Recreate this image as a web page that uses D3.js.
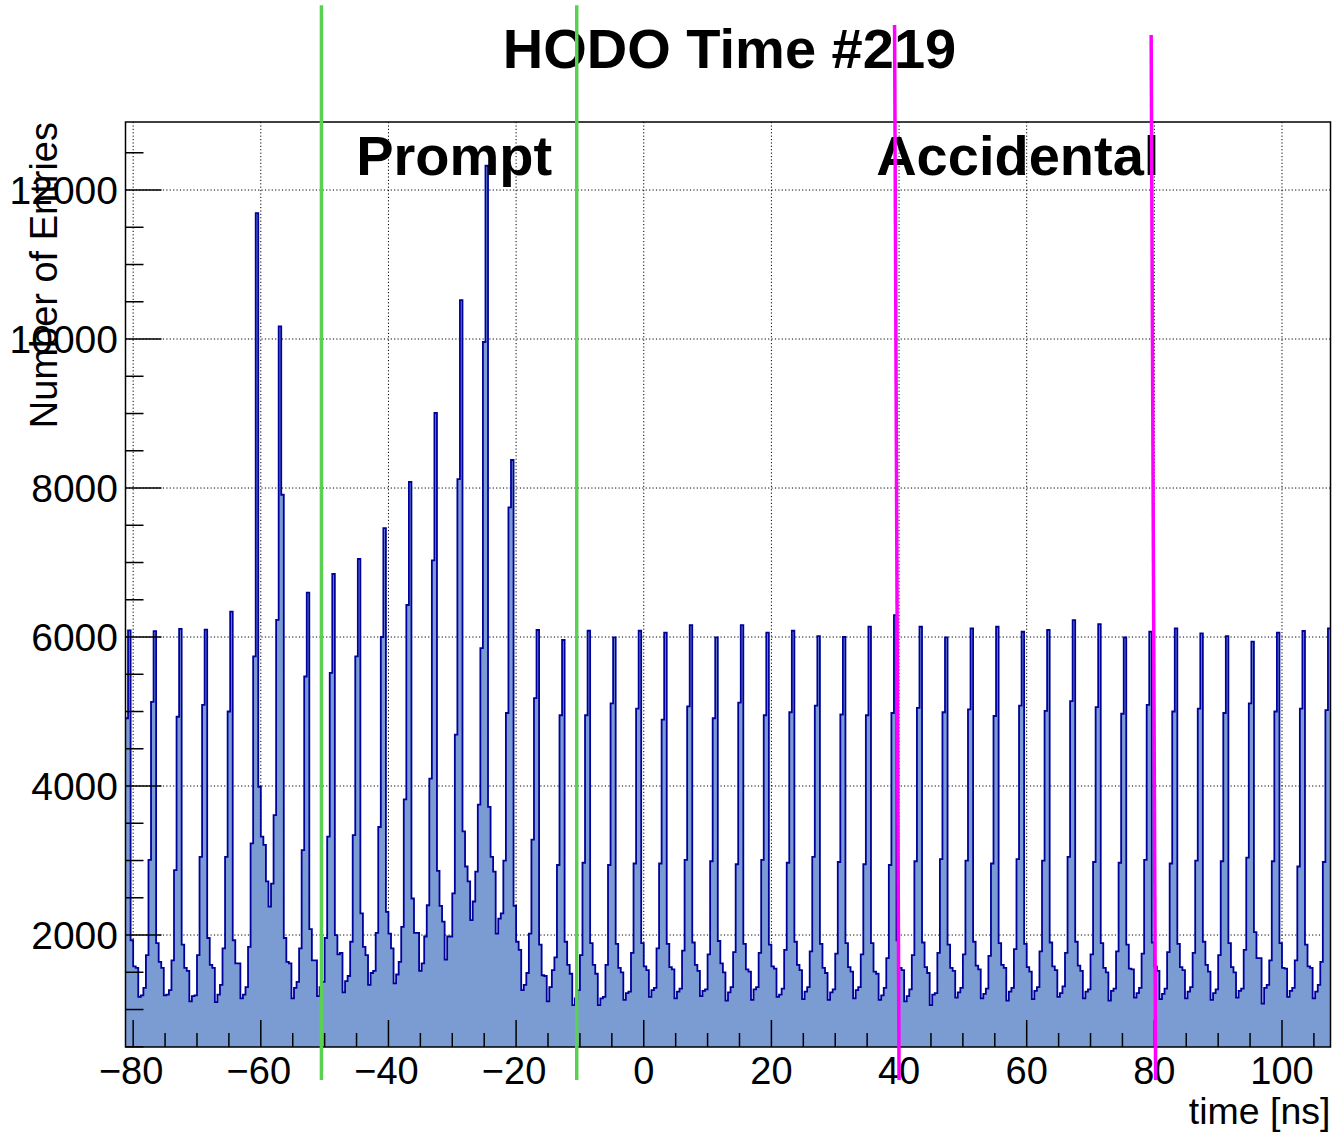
<!DOCTYPE html>
<html>
<head>
<meta charset="utf-8">
<script src="https://cdn.jsdelivr.net/npm/d3@7"></script>
<style>
  html, body { margin: 0; padding: 0; background: #ffffff; }
  svg { display: block; }
  text { font-family: "Liberation Sans", Arial, Helvetica, sans-serif; fill: #000; }
</style>
</head>
<body>
<svg id="chart" width="1337" height="1134"></svg>
<script>
// ---- Histogram binning (ns) ----
const binLow = -81.2;
const binWidth = 0.4;

// Entries per 0.4 ns bin, from -81.2 ns upward.
// First value is the lone bin before the first bunch; each following row
// holds one 4 ns RF period starting at its bunch peak.
const counts = [
  4910,
  6090, 1930, 1580, 1560, 1170, 1190, 1290, 1730, 3010, 5130,
  6080, 1890, 1640, 1560, 1190, 1200, 1260, 1660, 2870, 4930,
  6110, 1870, 1560, 1520, 1110, 1180, 1190, 1730, 3050, 5090,
  6100, 1960, 1600, 1560, 1100, 1200, 1330, 1820, 3050, 5000,
  6340, 1930, 1620, 1620, 1150, 1200, 1300, 1840, 3230, 5740,
  11690, 3990, 3320, 3210, 2720, 2380, 2690, 3610, 6230, 10170,
  7910, 1960, 1640, 1620, 1150, 1290, 1370, 1820, 3140, 5470,
  6595, 2080, 1660, 1660, 1180, 1300, 1370, 1960, 3320, 5520,
  6846, 2000, 1740, 1760, 1230, 1380, 1450, 1910, 3340, 5740,
  7047, 2290, 1840, 1730, 1330, 1490, 1520, 2030, 3450, 6000,
  7463, 2310, 2020, 1820, 1350, 1470, 1640, 2110, 3820, 6430,
  8081, 2490, 2030, 2030, 1520, 1620, 1980, 2400, 4100, 7030,
  9007, 2860, 2390, 2180, 1670, 1980, 1980, 2560, 4690, 8120,
  10523, 3390, 2920, 2720, 2200, 2450, 2850, 3750, 5850, 9960,
  12326, 3720, 3050, 2850, 2020, 2220, 2290, 3000, 4980, 7740,
  8376, 2390, 1910, 1800, 1260, 1330, 1490, 2020, 3280, 5180,
  6094, 1870, 1460, 1450, 1110, 1300, 1530, 1700, 2940, 4950,
  5960, 1910, 1600, 1480, 1060, 1150, 1260, 1730, 2970, 4950,
  6084, 1890, 1600, 1480, 1060, 1150, 1170, 1600, 2940, 5110,
  5994, 1880, 1560, 1500, 1130, 1220, 1240, 1760, 2960, 5040,
  6084, 1890, 1580, 1530, 1170, 1260, 1290, 1820, 2960, 4890,
  6058, 1880, 1570, 1540, 1150, 1240, 1280, 1790, 3010, 5070,
  6161, 1900, 1600, 1520, 1180, 1250, 1270, 1740, 2990, 4910,
  5994, 1920, 1620, 1500, 1120, 1230, 1300, 1770, 2950, 5120,
  6161, 1880, 1540, 1510, 1130, 1270, 1300, 1760, 3010, 4950,
  6058, 1870, 1580, 1550, 1170, 1200, 1280, 1800, 2970, 4990,
  6084, 1910, 1600, 1530, 1140, 1240, 1300, 1780, 3050, 5080,
  6013, 1880, 1560, 1490, 1130, 1230, 1270, 1750, 2980, 4960,
  6000, 1890, 1570, 1510, 1150, 1260, 1300, 1740, 2950, 4950,
  6138, 1890, 1510, 1480, 1130, 1190, 1290, 1690, 2940, 4980,
  6295, 1930, 1560, 1530, 1110, 1180, 1270, 1730, 2990, 5050,
  6138, 1900, 1570, 1490, 1060, 1200, 1220, 1760, 3020, 4990,
  5994, 1870, 1560, 1520, 1160, 1230, 1290, 1740, 3000, 5030,
  6116, 1910, 1590, 1540, 1150, 1210, 1280, 1720, 2960, 4940,
  6138, 1890, 1600, 1560, 1120, 1240, 1290, 1810, 3020, 5080,
  6071, 1880, 1570, 1510, 1140, 1250, 1300, 1780, 3000, 5010,
  6094, 1900, 1580, 1530, 1170, 1220, 1310, 1760, 3050, 5140,
  6228, 1910, 1590, 1520, 1150, 1240, 1270, 1740, 2980, 5060,
  6174, 1890, 1560, 1500, 1120, 1250, 1280, 1780, 2970, 4970,
  5994, 1870, 1550, 1540, 1160, 1220, 1290, 1750, 3010, 5090,
  6071, 1900, 1580, 1520, 1140, 1210, 1280, 1770, 2960, 5000,
  6116, 1880, 1570, 1530, 1150, 1240, 1300, 1760, 3000, 5040,
  6050, 1910, 1600, 1510, 1130, 1220, 1270, 1730, 2990, 4980,
  6013, 1890, 1570, 1500, 1160, 1250, 1280, 1800, 3040, 5110,
  5937, 2040, 1690, 1690, 1080, 1290, 1330, 1660, 2990, 5000,
  6058, 1890, 1560, 1550, 1170, 1250, 1290, 1660, 2920, 5040,
  6081, 1870, 1580, 1560, 1150, 1240, 1330, 1640, 2980, 5020,
  6116
];

// Axis ticks
const xTicks = [-80, -60, -40, -20, 0, 20, 40, 60, 80, 100];
const yTicks = [2000, 4000, 6000, 8000, 10000, 12000];

// Timing cut windows (ns): prompt window and accidental window
const promptCuts = [-50.5, -10.5];
const accidentalCuts = [[39.3, 40.0], [79.5, 80.2]]; // [top, bottom] x of each line
const accidentalTops = [14215, 14080];
const cutLineBottom = 54;
const promptTop = 14480;
const windowLabels = [
  { text: "Prompt", t: -29.7 },
  { text: "Accidental", t: 58.6 }
];

const titleText = "HODO Time #219";
const xTitle = "time [ns]";
const yTitle = "Number of Entries";

// ---- Layout ----
const frame = { left: 125.5, right: 1330.5, top: 122, bottom: 1047 };
const svg = d3.select("#chart");

const x = d3.scaleLinear().domain([binLow, binLow + binWidth * counts.length]).range([frame.left, frame.right]);
const y = d3.scaleLinear().domain([497, 12913]).range([frame.bottom, frame.top]);

svg.append("defs").append("clipPath").attr("id", "frameClip")
  .append("rect")
  .attr("x", frame.left).attr("y", frame.top)
  .attr("width", frame.right - frame.left).attr("height", frame.bottom - frame.top);

// Grid (behind the histogram)
const grid = svg.append("g").attr("stroke", "#000").attr("stroke-width", 1)
  .attr("stroke-dasharray", "1.2,2.2");
grid.selectAll("line.gx").data(xTicks).join("line")
  .attr("x1", d => x(d)).attr("x2", d => x(d))
  .attr("y1", frame.top).attr("y2", frame.bottom);
grid.selectAll("line.gy").data(yTicks).join("line")
  .attr("x1", frame.left).attr("x2", frame.right)
  .attr("y1", d => y(d)).attr("y2", d => y(d));

// Histogram as a step curve over bin edges
const edges = d3.range(counts.length + 1).map(i => ({
  t: binLow + i * binWidth,
  v: counts[Math.min(i, counts.length - 1)]
}));

const histG = svg.append("g").attr("clip-path", "url(#frameClip)");
histG.append("path")
  .datum(edges)
  .attr("fill", "#7b9bd3")
  .attr("d", d3.area().curve(d3.curveStepAfter)
    .x(d => x(d.t)).y0(frame.bottom).y1(d => y(d.v)));
histG.append("path")
  .datum(edges)
  .attr("fill", "none")
  .attr("stroke", "#00009a")
  .attr("stroke-width", 1.8)
  .attr("stroke-linejoin", "miter")
  .attr("d", d3.line().curve(d3.curveStepAfter).x(d => x(d.t)).y(d => y(d.v)));

// Frame
svg.append("rect")
  .attr("x", frame.left).attr("y", frame.top)
  .attr("width", frame.right - frame.left).attr("height", frame.bottom - frame.top)
  .attr("fill", "none").attr("stroke", "#000").attr("stroke-width", 1.5);

// Y axis ticks (inside the frame, pointing right)
const yMinor = d3.range(500, 13000, 500);
svg.append("g").selectAll("line").data(yMinor).join("line")
  .attr("x1", frame.left).attr("x2", d => frame.left + (d % 2000 === 0 ? 36 : 18))
  .attr("y1", d => y(d)).attr("y2", d => y(d))
  .attr("stroke", "#000").attr("stroke-width", 1.5);
svg.append("g").selectAll("text").data(yTicks).join("text")
  .attr("x", 118).attr("y", d => y(d) + 13.8)
  .attr("text-anchor", "end")
  .attr("font-size", 39)
  .text(d => d);

// X axis ticks (inside the frame, pointing up)
const xMinor = d3.range(-80, 108, 5);
svg.append("g").selectAll("line").data(xMinor).join("line")
  .attr("x1", d => x(d)).attr("x2", d => x(d))
  .attr("y1", frame.bottom).attr("y2", d => frame.bottom - (d % 20 === 0 ? 27 : 14))
  .attr("stroke", "#000").attr("stroke-width", 1.5);
svg.append("g").selectAll("text").data(xTicks).join("text")
  .attr("x", d => x(d) - (d < 0 ? 2 : 0)).attr("y", 1084)
  .attr("text-anchor", "middle")
  .attr("font-size", 38)
  .text(d => d < 0 ? "\u2212" + Math.abs(d) : d);

// Axis titles
svg.append("text")
  .attr("x", frame.right).attr("y", 1124)
  .attr("text-anchor", "end").attr("font-size", 37.5)
  .text(xTitle);
svg.append("text")
  .attr("transform", `translate(57, ${frame.top}) rotate(-90)`)
  .attr("text-anchor", "end").attr("font-size", 38)
  .text(yTitle);

// Title
svg.append("text")
  .attr("x", 729.5).attr("y", 68)
  .attr("text-anchor", "middle").attr("font-size", 56).attr("font-weight", "bold")
  .text(titleText);

// Window labels
svg.append("g").selectAll("text").data(windowLabels).join("text")
  .attr("x", d => x(d.t)).attr("y", 175)
  .attr("text-anchor", "middle").attr("font-size", 56).attr("font-weight", "bold")
  .text(d => d.text);

// Cut lines
svg.append("g").selectAll("line").data(promptCuts).join("line")
  .attr("x1", d => x(d)).attr("x2", d => x(d))
  .attr("y1", y(promptTop)).attr("y2", y(cutLineBottom))
  .attr("stroke", "#5ad152").attr("stroke-width", 3.5);
svg.append("g").selectAll("line").data(accidentalCuts).join("line")
  .attr("x1", d => x(d[0])).attr("x2", d => x(d[1]))
  .attr("y1", (d, i) => y(accidentalTops[i])).attr("y2", y(cutLineBottom))
  .attr("stroke", "#ff00ff").attr("stroke-width", 3.5);
</script>
</body>
</html>
